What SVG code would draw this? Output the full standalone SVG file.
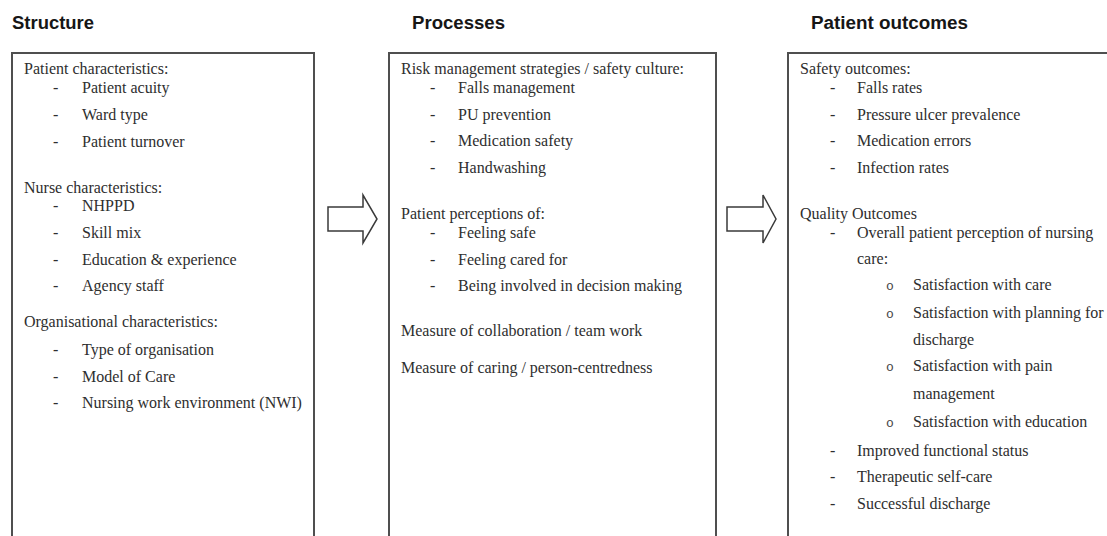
<svg xmlns="http://www.w3.org/2000/svg" width="1107" height="536" viewBox="0 0 1107 536">
<style>
.hdr{font-family:"Liberation Sans",Arial,sans-serif;font-weight:bold;font-size:18px;fill:#161616}
.t{font-family:"Liberation Serif","Times New Roman",serif;font-size:16px;fill:#2e2e2e}
.b{font-family:"Liberation Mono","Courier New",monospace;font-size:13px;fill:#444}
.box{fill:#fff;stroke:#4f4f4f;stroke-width:2}
.arr{fill:#fff;stroke:#3a3a3a;stroke-width:1.5;stroke-linejoin:miter}
</style>
<rect width="1107" height="536" fill="#fff"/>
<g id="structure">
<text class="hdr" x="12" y="29" textLength="82" lengthAdjust="spacingAndGlyphs">Structure</text>
<rect class="box" x="12" y="53" width="302" height="520"/>
<text class="t" x="24" y="74">Patient characteristics:</text>
<text class="t" x="53" y="93">-</text><text class="t" x="82" y="93">Patient acuity</text>
<text class="t" x="53" y="120">-</text><text class="t" x="82" y="120">Ward type</text>
<text class="t" x="53" y="147">-</text><text class="t" x="82" y="147">Patient turnover</text>
<text class="t" x="24" y="193">Nurse characteristics:</text>
<text class="t" x="53" y="211">-</text><text class="t" x="82" y="211">NHPPD</text>
<text class="t" x="53" y="238">-</text><text class="t" x="82" y="238">Skill mix</text>
<text class="t" x="53" y="265">-</text><text class="t" x="82" y="265">Education &amp; experience</text>
<text class="t" x="53" y="291">-</text><text class="t" x="82" y="291">Agency staff</text>
<text class="t" x="24" y="327">Organisational characteristics:</text>
<text class="t" x="53" y="355">-</text><text class="t" x="82" y="355">Type of organisation</text>
<text class="t" x="53" y="382">-</text><text class="t" x="82" y="382">Model of Care</text>
<text class="t" x="53" y="408">-</text><text class="t" x="82" y="408">Nursing work environment (NWI)</text>
</g>
<g id="processes">
<text class="hdr" x="412" y="29" textLength="93" lengthAdjust="spacingAndGlyphs">Processes</text>
<rect class="box" x="389" y="53" width="327" height="520"/>
<text class="t" x="401" y="74">Risk management strategies / safety culture:</text>
<text class="t" x="430" y="93">-</text><text class="t" x="458" y="93">Falls management</text>
<text class="t" x="430" y="120">-</text><text class="t" x="458" y="120">PU prevention</text>
<text class="t" x="430" y="146">-</text><text class="t" x="458" y="146">Medication safety</text>
<text class="t" x="430" y="173">-</text><text class="t" x="458" y="173">Handwashing</text>
<text class="t" x="401" y="219">Patient perceptions of:</text>
<text class="t" x="430" y="238">-</text><text class="t" x="458" y="238">Feeling safe</text>
<text class="t" x="430" y="265">-</text><text class="t" x="458" y="265">Feeling cared for</text>
<text class="t" x="430" y="291">-</text><text class="t" x="458" y="291">Being involved in decision making</text>
<text class="t" x="401" y="336">Measure of collaboration / team work</text>
<text class="t" x="401" y="373">Measure of caring / person-centredness</text>
</g>
<g id="outcomes">
<text class="hdr" x="811" y="29" textLength="157" lengthAdjust="spacingAndGlyphs">Patient outcomes</text>
<rect class="box" x="788" y="53" width="340" height="520"/>
<text class="t" x="800" y="74">Safety outcomes:</text>
<text class="t" x="830" y="93">-</text><text class="t" x="857" y="93">Falls rates</text>
<text class="t" x="830" y="120">-</text><text class="t" x="857" y="120">Pressure ulcer prevalence</text>
<text class="t" x="830" y="146">-</text><text class="t" x="857" y="146">Medication errors</text>
<text class="t" x="830" y="173">-</text><text class="t" x="857" y="173">Infection rates</text>
<text class="t" x="800" y="219">Quality Outcomes</text>
<text class="t" x="830" y="238">-</text><text class="t" x="857" y="238">Overall patient perception of nursing</text>
<text class="t" x="857" y="264">care:</text>
<text class="b" x="886" y="290">o</text><text class="t" x="913" y="290">Satisfaction with care</text>
<text class="b" x="886" y="318">o</text><text class="t" x="913" y="318">Satisfaction with planning for</text>
<text class="t" x="913" y="345">discharge</text>
<text class="b" x="886" y="371">o</text><text class="t" x="913" y="371">Satisfaction with pain</text>
<text class="t" x="913" y="399">management</text>
<text class="b" x="886" y="427">o</text><text class="t" x="913" y="427">Satisfaction with education</text>
<text class="t" x="830" y="456">-</text><text class="t" x="857" y="456">Improved functional status</text>
<text class="t" x="830" y="482">-</text><text class="t" x="857" y="482">Therapeutic self-care</text>
<text class="t" x="830" y="509">-</text><text class="t" x="857" y="509">Successful discharge</text>
</g>
<g id="connectors">
<polygon class="arr" points="328,207 363,207 363,195 377,219 363,243 363,231 328,231"/>
<polygon class="arr" points="727,207 763,207 763,195 776,219 763,243 763,231 727,231"/>
</g>
</svg>
